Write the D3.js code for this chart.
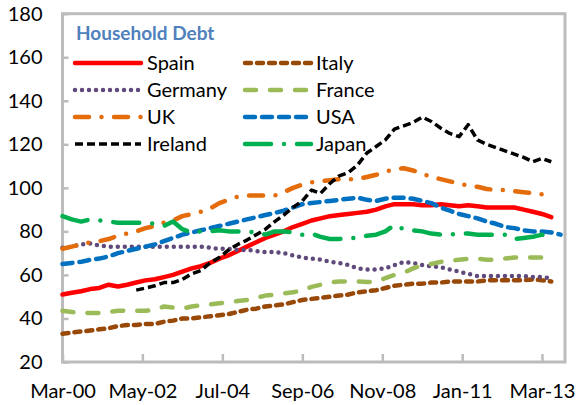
<!DOCTYPE html>
<html>
<head>
<meta charset="utf-8">
<script src="https://cdn.jsdelivr.net/npm/d3@7"></script>
<style>
body { margin: 0; background: #fff; }
svg { display: block; font-family: Lato, "Open Sans", sans-serif; }
</style>
</head>
<body>
<svg id="canvas" width="581" height="405"></svg>
<script>
// quarterly values, first point Mar-00
let spain = [51,51.8,52.5,53.5,54,55.5,54.7,55.5,56.5,57.5, 58,59,60,61.5,63,64,65.5,67.5,69,71,
    73,75,77,78.5,80,82,83.5,85,86,87, 87.5,88,88.5,89,90,91.5,92.5,92.5,92.5,92,
    92,92.5,92,91.5,92,91.5,91,91,91,91, 90,89,88,86.5]
let italy = [33,33.5,34,34.5,35,35.5,36.5,37,37,37.5, 37.5,38.5,39,40,40,40.5,41,41.5,42,43,
    44,44.5,45.5,46,46.5,47.5,48.5,49,49.5,50, 50.5,51,52,52.5,53,54,55,55.5,56,56,
    56.5,56.5,57,57,57,57,57.5,57.5,57.5,57.5, 57.5,58,57.5,57]
let germany = [72.5,73,74,74.5,73.5,73,73,73,73,73, 73,73,73,73,73,73,72.5,72,72,71.5,
    71.5,71,70.5,70.5,70,69,68,67.5,67,66, 65.5,64.5,63,62.5,62.5,63,64.5,66,65.5,64.5,
    64,63.5,62.5,61.5,60.5,59.5,59.5,59.5,59.5,59.5, 59.5,59,59,58.5]
let france = [43.5,43,42.5,42.5,42.5,43,43.5,43.5,43.5,43.5, 44,45.5,45,44.5,45.5,46,46.5,47,47.5,48,
    48.5,49.5,50.5,51,51.5,52,53,54.5,55.5,56.5, 57,57,57,56.7,57,58.5,60,61,63,64.5,
    65,66,66.5,67,67.4,67.5,67,67,67.5,68, 68,68,68,68]
let uk = [72,73,74,75,75.5,76.5,78,79,80,81.5, 82.5,84,85,87,88,89,90.5,93,94.5,96,
    96.5,96.5,96.5,96.5,98,100,101.5,102.5,103,103.5, 104,104,104,105,106,107.5,108.5,109,108,106.5,
    105,104,103,102,101,100.5,99.5,99,99,98.5, 98,97.5,97,96]
let usa = [65,65.5,66,67,67.5,68.5,70,71,72,73, 74,75.5,77,78.5,79.5,80.5,81.5,82.5,83.5,84.5,
    85.5,86.5,87.5,88.5,89.5,91,92.5,93,93.5,94, 94.5,95,95.5,94.5,94,95,95.5,95.5,95,94,
    93,91,89.5,88,87,86,84.5,83.5,82,81.5, 80.5,80,80,79.5,78.5]
let ireland = [null,null,null,null,null,null,null,null,53,54, 55,56.5,56.5,58,60.5,62,65.5,68,71.5,74,
    76,78.5,81,84.5,87.5,91,94,99,97.5,102, 105.5,107,110.5,116,119,122,127,128.5,130,132.5,
    130.5,127.5,125,123.5,129,122,120,118.5,117,115.5, 114,112,113.5,112]
let japan = [87,85.5,84.5,85.5,85,84.5,84,84,84,84, 83.5,82.5,84.5,81,79.5,80,80,80.5,80,80,
    80,79.5,78.5,80,80,79.5,78.5,79,77.5,76.5, 76.5,77,77,78,78.5,80,83,81,80.5,80,
    79,78.5,78.5,79,79,78.5,78.5,78.5,78.5,76.5, 77,77.5,78.5,76]

let countries = ["Spain", "Italy", "Germany", "France", "UK", "USA", "Ireland", "Japan"]
let yTicks = [20, 40, 60, 80, 100, 120, 140, 160, 180]
let xTickLabels = ["Mar-00", "May-02", "Jul-04", "Sep-06", "Nov-08", "Jan-11", "Mar-13"]

let parseMonth = d3.timeParse("%b-%y")
let quarters = d3.range(55).map((i) => new Date(2000, 2 + 3 * i, 1))

let styles = {
    "Spain":   { color: "#FF0000", dash: null,            cap: "round", width: 4.5 },
    "Italy":   { color: "#984807", dash: "6 6",           cap: "round", width: 4.5 },
    "Germany": { color: "#604A7B", dash: "0 7",           cap: "round", width: 4.5 },
    "France":  { color: "#9BBB59", dash: "11 14",         cap: "round", width: 4.5 },
    "UK":      { color: "#E46C0A", dash: "14 12.5 0 12.5", cap: "round", width: 4.5 },
    "USA":     { color: "#0070C0", dash: "10 7",          cap: "round", width: 4.5 },
    "Ireland": { color: "#000000", dash: "8 4",           cap: "butt",  width: 3.5 },
    "Japan":   { color: "#00B050", dash: "26 13 0 13",    cap: "round", width: 4.5 }
}

let valuesByCountry = {
    "Spain": spain, "Italy": italy, "Germany": germany, "France": france,
    "UK": uk, "USA": usa, "Ireland": ireland, "Japan": japan
}

let canvas = d3.select("#canvas")
let axisGray = "#BCBCBC"

let x = d3.scaleTime()
    .domain([new Date(2000, 2, 1), new Date(2013, 9, 15)])
    .range([62.5, 565])

let y = d3.scaleLinear()
    .domain([20, 180])
    .range([362, 13.7])

// frame
canvas.append("rect")
    .attr("x", x.range()[0])
    .attr("y", y(180))
    .attr("width", x.range()[1] - x.range()[0])
    .attr("height", y(20) - y(180))
    .attr("fill", "none")
    .attr("stroke", axisGray)
    .attr("stroke-width", 3)

let yAxis = d3.axisLeft(y)
    .tickValues(yTicks)
    .tickSizeInner(-6)
    .tickSizeOuter(0)
    .tickPadding(20)

let xAxis = d3.axisBottom(x)
    .tickValues(xTickLabels.map(parseMonth))
    .tickFormat(d3.timeFormat("%b-%y"))
    .tickSizeInner(-8)
    .tickSizeOuter(0)
    .tickPadding(22)

canvas.append("g")
    .attr("transform", "translate(" + x.range()[0] + ",0)")
    .call(yAxis)
    .call(g => g.select(".domain").remove())

canvas.append("g")
    .attr("transform", "translate(0," + y(20) + ")")
    .call(xAxis)
    .call(g => g.select(".domain").remove())

canvas.selectAll(".tick line")
    .attr("stroke", axisGray)
    .attr("stroke-width", 2.5)

canvas.selectAll(".tick text")
    .attr("fill", "#000")
    .style("font-family", "Lato")
    .style("font-size", "20px")

// lines
let line = d3.line()
    .defined((d) => d[1] !== null)
    .x((d) => x(d[0]))
    .y((d) => y(d[1]))

canvas.append("g")
    .selectAll("path")
    .data(countries)
    .enter()
    .append("path")
    .attr("d", (c) => line(valuesByCountry[c].map((v, i) => [quarters[i], v])))
    .attr("fill", "none")
    .attr("stroke", (c) => styles[c].color)
    .attr("stroke-width", (c) => styles[c].width)
    .attr("stroke-dasharray", (c) => styles[c].dash)
    .attr("stroke-linecap", (c) => styles[c].cap)
    .attr("stroke-linejoin", "round")

// title and legend
canvas.append("text")
    .attr("x", 76)
    .attr("y", 40)
    .attr("fill", "#4F81BD")
    .style("font-size", "19px")
    .style("font-weight", "bold")
    .text("Household Debt")

let legend = canvas.append("g").attr("id", "legend")

let items = legend.selectAll("g")
    .data(countries)
    .enter()
    .append("g")
    .attr("transform", (c, i) => "translate(" + (i % 2 === 0 ? 75 : 245) + "," + (63 + 27 * Math.floor(i / 2)) + ")")

items.append("line")
    .attr("x1", 0)
    .attr("x2", 66)
    .attr("stroke", (c) => styles[c].color)
    .attr("stroke-width", (c) => styles[c].width)
    .attr("stroke-dasharray", (c) => styles[c].dash)
    .attr("stroke-linecap", (c) => styles[c].cap)

items.append("text")
    .attr("x", (c, i) => i % 2 === 0 ? 72 : 71)
    .attr("y", 7)
    .style("font-size", "20px")
    .text((c) => c)
</script>
</body>
</html>
